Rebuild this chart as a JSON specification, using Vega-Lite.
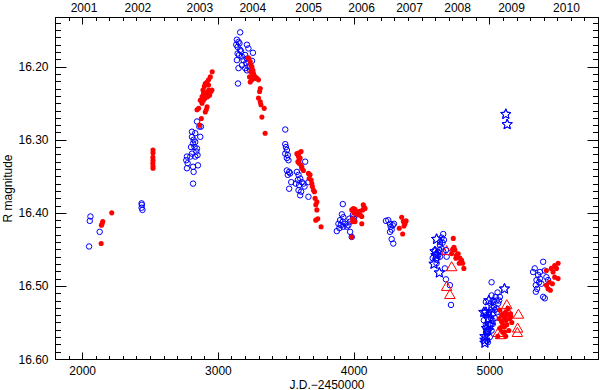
{
 "$schema": "https://vega.github.io/schema/vega-lite/v6.json",
 "width": 543, "height": 342,
 "autosize": {"type": "none"},
 "padding": {"left": 55, "top": 17, "right": 2, "bottom": 31},
 "background": "white",
 "config": {
  "view": {"stroke": "black", "strokeWidth": 1},
  "font": "Liberation Sans",
  "axis": {"labelFont": "Liberation Sans", "labelFontSize": 12, "labelColor": "black", "titleFont": "Liberation Sans", "titleFontSize": 12, "titleFontWeight": "normal", "titleColor": "black", "domainColor": "black", "tickColor": "black", "tickWidth": 1, "grid": false, "labelFlush": false, "labelOverlap": false, "labelBound": false}
 },
 "datasets": {
  "circ": [
   {"jd":2061,"R":16.405},{"jd":2056,"R":16.411},{"jd":2129,"R":16.426},{"jd":2051,"R":16.446},{"jd":2438,"R":16.387},{"jd":2440,"R":16.389},{"jd":2438,"R":16.393},{"jd":2444,"R":16.396},
   {"jd":2772,"R":16.323},{"jd":2767,"R":16.328},{"jd":2777,"R":16.332},{"jd":2772,"R":16.339},{"jd":2797,"R":16.323},{"jd":2809,"R":16.319},{"jd":2802,"R":16.310},{"jd":2817,"R":16.305},{"jd":2821,"R":16.300},{"jd":2833,"R":16.303},{"jd":2809,"R":16.296},{"jd":2828,"R":16.310},{"jd":2846,"R":16.312},{"jd":2841,"R":16.316},{"jd":2833,"R":16.323},{"jd":2850,"R":16.321},{"jd":2817,"R":16.337},{"jd":2821,"R":16.344},{"jd":2853,"R":16.335},{"jd":2817,"R":16.360},{"jd":2870,"R":16.296},{"jd":2863,"R":16.282},{"jd":2846,"R":16.275},{"jd":2875,"R":16.282},{"jd":2809,"R":16.289},{"jd":2833,"R":16.291},
   {"jd":3164,"R":16.153},{"jd":3140,"R":16.163},{"jd":3152,"R":16.166},{"jd":3135,"R":16.170},{"jd":3145,"R":16.173},{"jd":3159,"R":16.168},{"jd":3164,"R":16.177},{"jd":3145,"R":16.182},{"jd":3155,"R":16.184},{"jd":3170,"R":16.179},{"jd":3177,"R":16.186},{"jd":3140,"R":16.191},{"jd":3189,"R":16.191},{"jd":3152,"R":16.202},{"jd":3214,"R":16.170},{"jd":3225,"R":16.175},{"jd":3201,"R":16.184},{"jd":3214,"R":16.189},{"jd":3209,"R":16.195},{"jd":3225,"R":16.200},{"jd":3258,"R":16.181},{"jd":3251,"R":16.192},{"jd":3201,"R":16.202},{"jd":3214,"R":16.205},{"jd":3148,"R":16.223},{"jd":3177,"R":16.198},{"jd":3238,"R":16.205},{"jd":3225,"R":16.193},
   {"jd":3496,"R":16.286},{"jd":3496,"R":16.306},{"jd":3501,"R":16.310},{"jd":3508,"R":16.314},{"jd":3496,"R":16.319},{"jd":3515,"R":16.321},{"jd":3508,"R":16.325},{"jd":3520,"R":16.328},{"jd":3508,"R":16.342},{"jd":3525,"R":16.344},{"jd":3532,"R":16.346},{"jd":3515,"R":16.348},{"jd":3540,"R":16.358},{"jd":3525,"R":16.367},{"jd":3582,"R":16.344},{"jd":3594,"R":16.348},{"jd":3606,"R":16.353},{"jd":3589,"R":16.355},{"jd":3618,"R":16.358},{"jd":3598,"R":16.362},{"jd":3630,"R":16.360},{"jd":3643,"R":16.330},{"jd":3613,"R":16.371},{"jd":3606,"R":16.376},{"jd":3667,"R":16.378},{"jd":3638,"R":16.364},{"jd":3574,"R":16.360},{"jd":3594,"R":16.369},{"jd":3667,"R":16.358},
   {"jd":3920,"R":16.388},{"jd":3913,"R":16.402},{"jd":3924,"R":16.406},{"jd":3900,"R":16.410},{"jd":3920,"R":16.412},{"jd":3888,"R":16.415},{"jd":3905,"R":16.417},{"jd":3876,"R":16.425},{"jd":3895,"R":16.421},{"jd":3924,"R":16.419},{"jd":3937,"R":16.415},{"jd":3969,"R":16.408},{"jd":3974,"R":16.412},{"jd":3961,"R":16.417},{"jd":3994,"R":16.403},{"jd":4003,"R":16.408},{"jd":3974,"R":16.426},{"jd":3986,"R":16.433},{"jd":3998,"R":16.406},{"jd":3949,"R":16.419},
   {"jd":4238,"R":16.411},{"jd":4255,"R":16.410},{"jd":4268,"R":16.415},{"jd":4273,"R":16.419},{"jd":4280,"R":16.423},{"jd":4268,"R":16.426},{"jd":4288,"R":16.417},{"jd":4297,"R":16.415},{"jd":4280,"R":16.436},{"jd":4292,"R":16.442},
   {"jd":4660,"R":16.429},{"jd":4648,"R":16.434},{"jd":4665,"R":16.437},{"jd":4655,"R":16.441},{"jd":4636,"R":16.444},{"jd":4648,"R":16.449},{"jd":4631,"R":16.451},{"jd":4611,"R":16.456},{"jd":4623,"R":16.458},{"jd":4616,"R":16.462},{"jd":4636,"R":16.460},{"jd":4660,"R":16.453},{"jd":4680,"R":16.451},{"jd":4685,"R":16.460},{"jd":4582,"R":16.462},{"jd":4672,"R":16.476},{"jd":4680,"R":16.491},{"jd":4709,"R":16.499},{"jd":4717,"R":16.526},{"jd":4611,"R":16.469},{"jd":4599,"R":16.451},{"jd":4636,"R":16.440},
   {"jd":5016,"R":16.495},{"jd":5016,"R":16.513},{"jd":5023,"R":16.520},{"jd":5033,"R":16.529},{"jd":5040,"R":16.533},{"jd":5053,"R":16.531},{"jd":5065,"R":16.524},{"jd":5077,"R":16.515},{"jd":5009,"R":16.533},{"jd":4998,"R":16.540},{"jd":4991,"R":16.547},{"jd":5003,"R":16.552},{"jd":4979,"R":16.556},{"jd":4991,"R":16.563},{"jd":4967,"R":16.570},{"jd":4984,"R":16.565},{"jd":5016,"R":16.561},{"jd":5023,"R":16.547},{"jd":5028,"R":16.538},{"jd":4967,"R":16.536},{"jd":4979,"R":16.540},{"jd":5009,"R":16.524},{"jd":5053,"R":16.520},{"jd":5072,"R":16.520},
   {"jd":4959,"R":16.547},{"jd":4974,"R":16.553},{"jd":4989,"R":16.561},{"jd":5003,"R":16.570},{"jd":4981,"R":16.575},{"jd":5016,"R":16.529},{"jd":5031,"R":16.520},{"jd":5046,"R":16.515},{"jd":5060,"R":16.509},{"jd":4996,"R":16.536},{"jd":5011,"R":16.544},{"jd":5025,"R":16.552},{"jd":5040,"R":16.544},{"jd":5055,"R":16.536},{"jd":4989,"R":16.577},{"jd":4974,"R":16.522},
   {"jd":5396,"R":16.467},{"jd":5334,"R":16.476},{"jd":5322,"R":16.481},{"jd":5372,"R":16.481},{"jd":5359,"R":16.485},{"jd":5347,"R":16.492},{"jd":5372,"R":16.490},{"jd":5342,"R":16.499},{"jd":5351,"R":16.504},{"jd":5342,"R":16.508},{"jd":5396,"R":16.515},{"jd":5408,"R":16.517},{"jd":5420,"R":16.488},{"jd":5432,"R":16.492},{"jd":5383,"R":16.497},{"jd":5408,"R":16.479},{"jd":5366,"R":16.495}
  ],
  "dot": [
   {"jd":2140,"R":16.442},{"jd":2147,"R":16.415},{"jd":2152,"R":16.412},{"jd":2142,"R":16.417},{"jd":2218,"R":16.400},{"jd":2522,"R":16.314},{"jd":2522,"R":16.318},{"jd":2521,"R":16.324},{"jd":2522,"R":16.328},{"jd":2521,"R":16.332},{"jd":2522,"R":16.336},{"jd":2522,"R":16.339},
   {"jd":2846,"R":16.259},{"jd":2858,"R":16.257},{"jd":2883,"R":16.250},{"jd":2870,"R":16.246},{"jd":2883,"R":16.241},{"jd":2894,"R":16.236},{"jd":2890,"R":16.232},{"jd":2900,"R":16.227},{"jd":2907,"R":16.223},{"jd":2920,"R":16.221},{"jd":2931,"R":16.218},{"jd":2894,"R":16.246},{"jd":2907,"R":16.243},{"jd":2914,"R":16.239},{"jd":2924,"R":16.234},{"jd":2934,"R":16.232},{"jd":2944,"R":16.233},{"jd":2907,"R":16.262},{"jd":2914,"R":16.259},{"jd":2920,"R":16.255},{"jd":2924,"R":16.241},{"jd":2939,"R":16.239},{"jd":2949,"R":16.234},{"jd":2958,"R":16.207},{"jd":2944,"R":16.214},{"jd":2931,"R":16.225},{"jd":2956,"R":16.232},{"jd":2878,"R":16.271},{"jd":2865,"R":16.280},
   {"jd":3225,"R":16.188},{"jd":3238,"R":16.193},{"jd":3243,"R":16.198},{"jd":3251,"R":16.200},{"jd":3258,"R":16.205},{"jd":3262,"R":16.209},{"jd":3275,"R":16.214},{"jd":3238,"R":16.221},{"jd":3251,"R":16.218},{"jd":3287,"R":16.216},{"jd":3299,"R":16.218},{"jd":3267,"R":16.216},{"jd":3258,"R":16.211},{"jd":3312,"R":16.230},{"jd":3307,"R":16.234},{"jd":3299,"R":16.243},{"jd":3312,"R":16.248},{"jd":3317,"R":16.252},{"jd":3341,"R":16.257},{"jd":3324,"R":16.269},{"jd":3348,"R":16.291},{"jd":3233,"R":16.214},{"jd":3243,"R":16.207},
   {"jd":3582,"R":16.319},{"jd":3598,"R":16.318},{"jd":3613,"R":16.316},{"jd":3593,"R":16.323},{"jd":3606,"R":16.325},{"jd":3589,"R":16.330},{"jd":3598,"R":16.332},{"jd":3613,"R":16.335},{"jd":3618,"R":16.339},{"jd":3630,"R":16.342},{"jd":3667,"R":16.346},{"jd":3679,"R":16.348},{"jd":3672,"R":16.353},{"jd":3687,"R":16.355},{"jd":3692,"R":16.360},{"jd":3696,"R":16.364},{"jd":3704,"R":16.369},{"jd":3711,"R":16.371},{"jd":3716,"R":16.380},{"jd":3729,"R":16.385},{"jd":3721,"R":16.389},{"jd":3729,"R":16.396},{"jd":3736,"R":16.408},{"jd":3721,"R":16.410},{"jd":3760,"R":16.419},{"jd":3598,"R":16.328},{"jd":3618,"R":16.337},
   {"jd":3986,"R":16.396},{"jd":3998,"R":16.394},{"jd":4010,"R":16.395},{"jd":4003,"R":16.400},{"jd":4018,"R":16.401},{"jd":4035,"R":16.403},{"jd":4047,"R":16.402},{"jd":4060,"R":16.405},{"jd":4071,"R":16.389},{"jd":4077,"R":16.392},{"jd":4084,"R":16.394},{"jd":4067,"R":16.396},{"jd":3993,"R":16.408},{"jd":3986,"R":16.433},{"jd":4060,"R":16.415},{"jd":4010,"R":16.412},{"jd":4042,"R":16.398},{"jd":3993,"R":16.412},
   {"jd":4354,"R":16.406},{"jd":4366,"R":16.412},{"jd":4378,"R":16.415},{"jd":4386,"R":16.411},{"jd":4371,"R":16.418},{"jd":4336,"R":16.421},{"jd":4361,"R":16.429},
   {"jd":4734,"R":16.435},{"jd":4739,"R":16.447},{"jd":4729,"R":16.450},{"jd":4746,"R":16.451},{"jd":4758,"R":16.458},{"jd":4770,"R":16.456},{"jd":4783,"R":16.462},{"jd":4795,"R":16.465},{"jd":4803,"R":16.469},{"jd":4812,"R":16.476},{"jd":4778,"R":16.469},{"jd":4753,"R":16.462},{"jd":4722,"R":16.456},
   {"jd":5077,"R":16.533},{"jd":5090,"R":16.540},{"jd":5101,"R":16.538},{"jd":5111,"R":16.543},{"jd":5123,"R":16.536},{"jd":5138,"R":16.540},{"jd":5151,"R":16.545},{"jd":5090,"R":16.549},{"jd":5101,"R":16.554},{"jd":5111,"R":16.556},{"jd":5077,"R":16.558},{"jd":5123,"R":16.547},{"jd":5138,"R":16.531},{"jd":5156,"R":16.538},{"jd":5072,"R":16.545},{"jd":5097,"R":16.563},{"jd":5111,"R":16.563},
   {"jd":5106,"R":16.547},{"jd":5128,"R":16.553},{"jd":5143,"R":16.561},{"jd":5158,"R":16.542},{"jd":5091,"R":16.556},{"jd":5062,"R":16.569},{"jd":5120,"R":16.569},{"jd":5165,"R":16.550},
   {"jd":5420,"R":16.479},{"jd":5456,"R":16.476},{"jd":5481,"R":16.472},{"jd":5506,"R":16.469},{"jd":5494,"R":16.476},{"jd":5469,"R":16.481},{"jd":5506,"R":16.490},{"jd":5481,"R":16.488},{"jd":5441,"R":16.495},{"jd":5432,"R":16.504},{"jd":5449,"R":16.506},{"jd":5420,"R":16.499},{"jd":5464,"R":16.497}
  ],
  "star": [
   {"jd":4611,"R":16.436},{"jd":4599,"R":16.453},{"jd":4606,"R":16.458},{"jd":4592,"R":16.470},{"jd":4631,"R":16.482},{"jd":5111,"R":16.504},{"jd":4974,"R":16.536},{"jd":4979,"R":16.558},{"jd":4967,"R":16.574},{"jd":4991,"R":16.545},{"jd":5003,"R":16.554},{"jd":4967,"R":16.569},{"jd":4989,"R":16.561},{"jd":4959,"R":16.536},{"jd":4996,"R":16.520},{"jd":4967,"R":16.578},{"jd":5121,"R":16.265},{"jd":5131,"R":16.279}
  ],
  "tri": [
   {"jd":4685,"R":16.451},{"jd":4722,"R":16.473},{"jd":4685,"R":16.500},{"jd":4709,"R":16.511},{"jd":5128,"R":16.525},{"jd":5131,"R":16.533},{"jd":5214,"R":16.538},{"jd":5208,"R":16.557},{"jd":5206,"R":16.563},{"jd":5065,"R":16.563},{"jd":5083,"R":16.566}
  ]
 },
 "resolve": {"axis": {"x": "independent", "y": "independent"}},
 "layer": [
  {
   "data": {"name": "circ"},
   "mark": {"type": "point", "shape": "circle", "filled": false, "color": "blue", "strokeWidth": 1, "size": 30, "opacity": 1},
   "encoding": {
    "x": {"field": "jd", "type": "quantitative",
     "scale": {"domain": [1800, 5800], "nice": false, "zero": false},
     "axis": {"orient": "bottom", "values": [1800,1900,2100,2200,2300,2400,2500,2600,2700,2800,2900,3100,3200,3300,3400,3500,3600,3700,3800,3900,4100,4200,4300,4400,4500,4600,4700,4800,4900,5100,5200,5300,5400,5500,5600,5700,5800],
      "tickSize": -3.5, "labels": false, "domain": false, "title": null}},
    "y": {"field": "R", "type": "quantitative",
     "scale": {"domain": [16.132, 16.6], "reverse": true, "nice": false, "zero": false},
     "axis": {"orient": "left", "values": [16.14,16.15,16.16,16.17,16.18,16.19,16.21,16.22,16.23,16.24,16.25,16.26,16.27,16.28,16.29,16.31,16.32,16.33,16.34,16.35,16.36,16.37,16.38,16.39,16.41,16.42,16.43,16.44,16.45,16.46,16.47,16.48,16.49,16.51,16.52,16.53,16.54,16.55,16.56,16.57,16.58,16.59],
      "tickSize": -5.5, "labels": false, "domain": false, "title": null}}
   }
  },
  {
   "data": {"name": "dot"},
   "mark": {"type": "circle", "color": "red", "size": 26, "opacity": 1},
   "encoding": {
    "x": {"field": "jd", "type": "quantitative",
     "axis": {"orient": "bottom", "values": [2000, 3000, 4000, 5000], "format": "d",
      "tickSize": -7, "labelPadding": 13, "title": "J.D.−2450000", "titlePadding": 3}},
    "y": {"field": "R", "type": "quantitative",
     "axis": {"orient": "left", "values": [16.2, 16.3, 16.4, 16.5, 16.6], "format": ".2f",
      "tickSize": -11, "labelPadding": 18, "title": "R magnitude", "titlePadding": 3}}
   }
  },
  {
   "data": {"name": "star"},
   "mark": {"type": "point", "shape": "M0,-1L0.265,-0.364L0.951,-0.309L0.428,0.139L0.588,0.809L0,0.45L-0.588,0.809L-0.428,0.139L-0.951,-0.309L-0.265,-0.364Z", "filled": false, "color": "blue", "strokeWidth": 1, "size": 115, "opacity": 1},
   "encoding": {
    "x": {"field": "jd", "type": "quantitative",
     "axis": {"orient": "top", "values": [2000, 3000, 4000, 5000], "tickSize": -7, "labels": false, "title": null}},
    "y": {"field": "R", "type": "quantitative",
     "axis": {"orient": "right", "values": [16.2, 16.3, 16.4, 16.5, 16.6], "tickSize": -11, "labels": false, "title": null}}
   }
  },
  {
   "data": {"name": "tri"},
   "mark": {"type": "point", "shape": "triangle-up", "filled": false, "color": "red", "strokeWidth": 1, "size": 110, "opacity": 1},
   "encoding": {
    "x": {"field": "jd", "type": "quantitative",
     "axis": {"orient": "top", "values": [1800,1900,2100,2200,2300,2400,2500,2600,2700,2800,2900,3100,3200,3300,3400,3500,3600,3700,3800,3900,4100,4200,4300,4400,4500,4600,4700,4800,4900,5100,5200,5300,5400,5500,5600,5700,5800],
      "tickSize": -3.5, "labels": false, "domain": false, "title": null}},
    "y": {"field": "R", "type": "quantitative",
     "axis": {"orient": "right", "values": [16.14,16.15,16.16,16.17,16.18,16.19,16.21,16.22,16.23,16.24,16.25,16.26,16.27,16.28,16.29,16.31,16.32,16.33,16.34,16.35,16.36,16.37,16.38,16.39,16.41,16.42,16.43,16.44,16.45,16.46,16.47,16.48,16.49,16.51,16.52,16.53,16.54,16.55,16.56,16.57,16.58,16.59],
      "tickSize": -5.5, "labels": false, "domain": false, "title": null}}
   }
  },
  {
   "data": {"name": "star"},
   "mark": {"type": "point", "shape": "M0,-1L0.265,-0.364L0.951,-0.309L0.428,0.139L0.588,0.809L0,0.45L-0.588,0.809L-0.428,0.139L-0.951,-0.309L-0.265,-0.364Z", "filled": false, "color": "blue", "strokeWidth": 1, "size": 115, "opacity": 1},
   "encoding": {
    "x": {"field": "jd", "type": "quantitative",
     "axis": {"orient": "top", "values": [2010,2407,2863,3253,3665,4055,4408,4762,5159,5564],
      "labelExpr": "['2001','2002','2003','2004','2005','2006','2007','2008','2009','2010'][indexof([2010,2407,2863,3253,3665,4055,4408,4762,5159,5564], datum.value)]",
      "ticks": false, "domain": false, "labelPadding": 3, "title": null}},
    "y": {"field": "R", "type": "quantitative", "axis": null}
   }
  }
 ]
}
